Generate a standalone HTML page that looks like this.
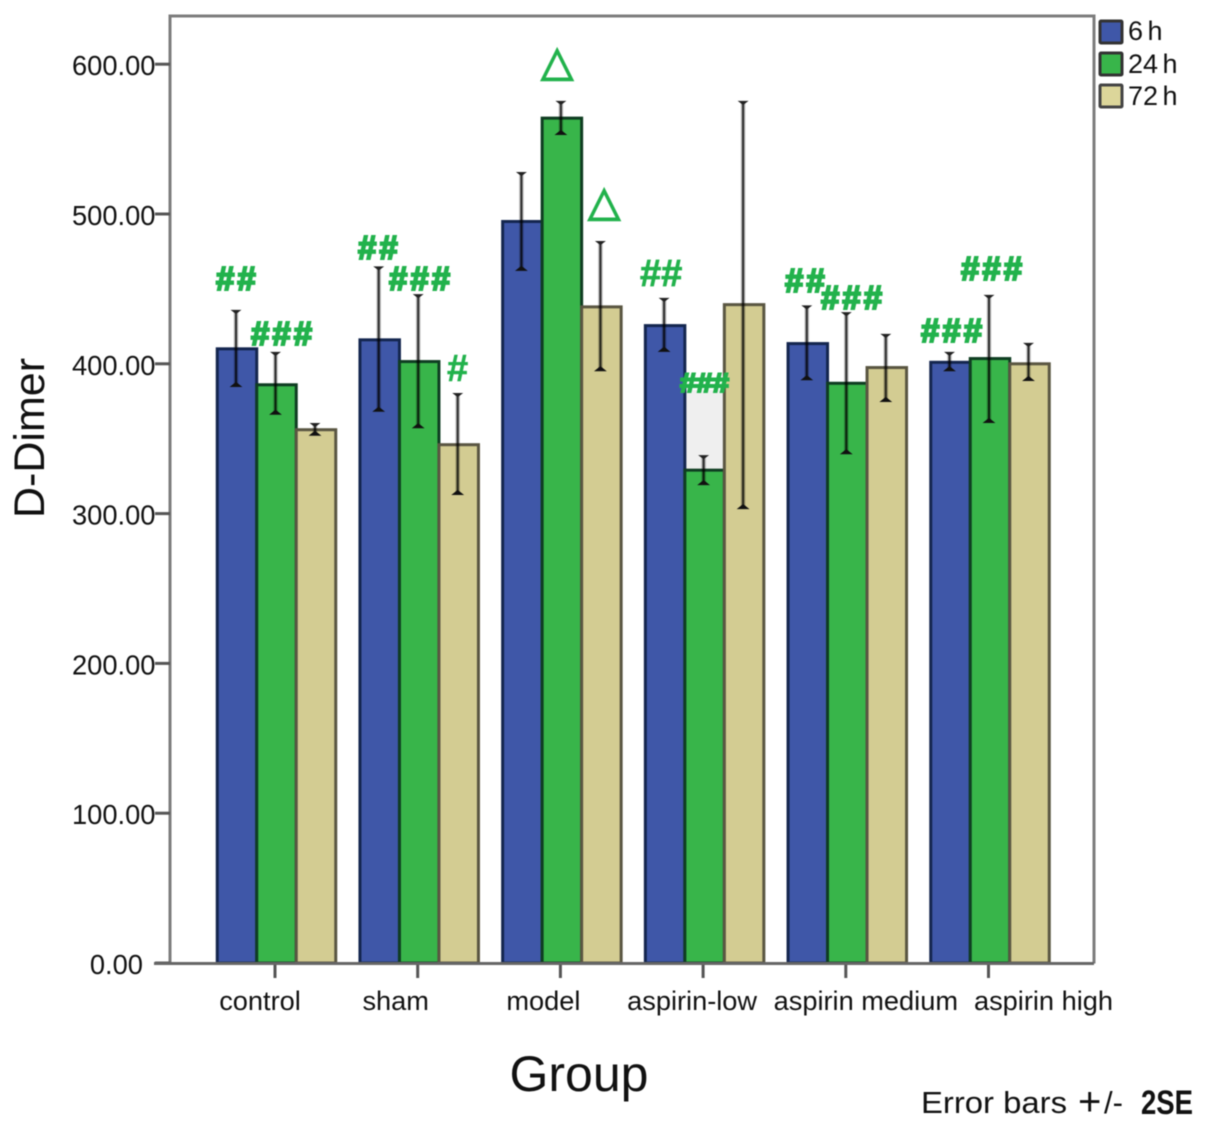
<!DOCTYPE html>
<html lang="en">
<head>
<meta charset="utf-8">
<title>D-Dimer by group</title>
<style>
html,body{margin:0;padding:0;background:#fff}
svg{display:block;font-family:"Liberation Sans",sans-serif;filter:blur(0.6px)}
.ann{font-weight:bold;font-size:33px;fill:#22b24c;stroke:#22b24c;stroke-width:2px;letter-spacing:3px}
.tri{font-family:"DejaVu Sans",sans-serif;font-size:42px;fill:#22b24c;stroke:#22b24c;stroke-width:1.4px}
</style>
</head>
<body>
<svg id="chart" width="1205" height="1127" viewBox="0 0 1205 1127" xmlns="http://www.w3.org/2000/svg">
  <path d="M170 963.5V16H1094V963.5" fill="#fff" stroke="#7c7c7c" stroke-width="3"/>
  <rect x="685" y="390" width="39" height="80" fill="#efefef"/>
  <g id="grid-layer"></g>
  <g id="bar-layer"></g>
  <g id="err-layer"></g>
  <line x1="154" y1="963.5" x2="1094" y2="963.5" stroke="#666" stroke-width="3"/>

  <g>
    <text class="ann" x="216" y="290">##</text>
    <text class="ann" x="251" y="345">###</text>
    <text class="ann" x="358" y="259">##</text>
    <text class="ann" x="389" y="290">###</text>
    <text class="ann" x="447" y="381" style="stroke-width:0.6px;font-size:38px">#</text>
    <text class="ann" x="640" y="286" style="stroke-width:0.8px;letter-spacing:0;font-size:38px">##</text>
    <text class="ann" x="680" y="392" textLength="49" lengthAdjust="spacingAndGlyphs" style="letter-spacing:0;font-size:27px">###</text>
    <text class="ann" x="785" y="292">##</text>
    <text class="ann" x="821" y="309">###</text>
    <text class="ann" x="921" y="342">###</text>
    <text class="ann" x="961" y="280">###</text>
    <text class="tri" x="541" y="75.5">△</text>
    <text class="tri" x="588" y="215.5">△</text>
  </g>

  <g>
    <rect x="1100" y="21" width="22" height="22" fill="#3f57a8" stroke="#333" stroke-width="3" rx="1"/>
    <text x="1128" y="40" font-size="27" word-spacing="-3" fill="#111">6 h</text>
    <rect x="1100" y="53" width="22" height="22" fill="#38b54a" stroke="#333" stroke-width="3" rx="1"/>
    <text x="1128" y="73" font-size="27" word-spacing="-3" fill="#111">24 h</text>
    <rect x="1100" y="85" width="22" height="22" fill="#dcd69a" stroke="#444" stroke-width="3" rx="1"/>
    <text x="1128" y="105" font-size="27" word-spacing="-3" fill="#111">72 h</text>
  </g>

  <text transform="translate(44,438) rotate(-90)" text-anchor="middle" font-size="43" fill="#111">D-Dimer</text>
  <text x="579" y="1091" text-anchor="middle" font-size="50" fill="#111">Group</text>
  <g fill="#111">
    <text x="921" y="1113" font-size="31" textLength="146" lengthAdjust="spacingAndGlyphs">Error bars</text>
    <text x="1078" y="1115" font-size="40">+</text>
    <text x="1104" y="1113" font-size="31">/-</text>
    <text x="1141" y="1114" font-size="34" font-weight="bold" textLength="52" lengthAdjust="spacingAndGlyphs">2SE</text>
  </g>
</svg>
<script>
const categories = ['control', 'sham', 'model', 'aspirin-low', 'aspirin medium', 'aspirin high'];
const seriesNames = ['6h', '24h', '72h'];
const yTicks = [0, 100, 200, 300, 400, 500, 600];
const yTickLabels = ['0.00', '100.00', '200.00', '300.00', '400.00', '500.00', '600.00'];
const mean6h = [410, 416, 495, 425.5, 413.5, 401];
const mean24h = [386, 401.5, 564, 329, 387, 403.5];
const mean72h = [356, 346, 438, 439.5, 397.5, 400];
const upper6h = [435, 464, 527, 443, 438, 407];
const upper24h = [407, 445.5, 574.5, 338, 433.5, 445];
const upper72h = [359.5, 379.5, 481, 574.5, 419, 413];
const lower6h = [385.5, 369, 463, 409, 390, 396];
const lower24h = [367, 358, 553.7, 320, 340.6, 361.5];
const lower72h = [353, 313.4, 396, 304, 375.5, 389.5];
const labelNudge = [-16.5, -23.5, -18.5, -12.5, 18.5, 53.5];

const seriesMeans = [mean6h, mean24h, mean72h];
const seriesUppers = [upper6h, upper24h, upper72h];
const seriesLowers = [lower6h, lower24h, lower72h];
const seriesFill = ['#3f57a8', '#38b54a', '#d3cc92'];
const seriesStroke = ['#14264f', '#0f3d22', '#5a5642'];

const SVGNS = 'http://www.w3.org/2000/svg';
function yScale(v) { return 963 - v * 1.498; }
function groupCenter(i) { return 276.5 + 142.7 * i; }
const barW = 39.5;
function barLeft(i, s) { return groupCenter(i) - barW * 1.5 + s * barW; }

function make(tag, parent, props) {
  const el = document.createElementNS(SVGNS, tag);
  for (const k in props) el.setAttribute(k, props[k]);
  parent.appendChild(el);
  return el;
}

const axes = document.getElementById('grid-layer');
yTicks.forEach(function (v, i) {
  const t = make('line', axes, { x1: 155, x2: 170, y1: yScale(v), y2: yScale(v), stroke: '#555', 'stroke-width': 3 });
  
  
  const l = make('text', axes, { x: v === 0 ? 143 : 155.5, y: yScale(v) + 11, 'text-anchor': 'end', 'font-size': 27.3, fill: '#111' });
  l.textContent = yTickLabels[i];
  
  
});
categories.forEach(function (c, i) {
  const t = make('line', axes, { x1: groupCenter(i) - 1.5, x2: groupCenter(i) - 1.5, y1: 963, y2: 978, stroke: '#555', 'stroke-width': 3 });
  
  
  const l = make('text', axes, { x: groupCenter(i) + labelNudge[i], y: 1010, 'text-anchor': 'middle', 'font-size': 27.2, fill: '#111' });
  l.textContent = c;
  
  
});

const bars = document.getElementById('bar-layer');
const errs = document.getElementById('err-layer');
categories.forEach(function (c, i) {
  seriesNames.forEach(function (sn, s) {
    const key = c.replace(/ /g, '-') + '-' + sn;
    const top = yScale(seriesMeans[s][i]);
    const r = make('rect', bars, { x: barLeft(i, s), y: top, width: barW, height: yScale(0) - top, fill: seriesFill[s], stroke: seriesStroke[s], 'stroke-width': 3 });
    
    

    const cx = barLeft(i, s) + barW / 2 - 1;
    const yHi = yScale(seriesUppers[s][i]);
    const yLo = yScale(seriesLowers[s][i]);
    const g = make('g', errs, {});
    
    
    make('line', g, { x1: cx, x2: cx, y1: yHi, y2: yLo, stroke: 'rgba(0,0,0,0.28)', 'stroke-width': 4.5 });
    make('line', g, { x1: cx, x2: cx, y1: yHi, y2: yLo, stroke: 'rgba(0,0,0,0.75)', 'stroke-width': 2 });
    make('path', g, { d: 'M' + (cx - 4) + ' ' + (yHi - 1) + 'h8l-4 3z', fill: '#222', stroke: '#222', 'stroke-width': 1 });
    make('path', g, { d: 'M' + (cx - 5) + ' ' + (yLo + 1) + 'h10l-5 -4z', fill: '#111', stroke: '#111', 'stroke-width': 1 });
  });
});
</script>
</body>
</html>
